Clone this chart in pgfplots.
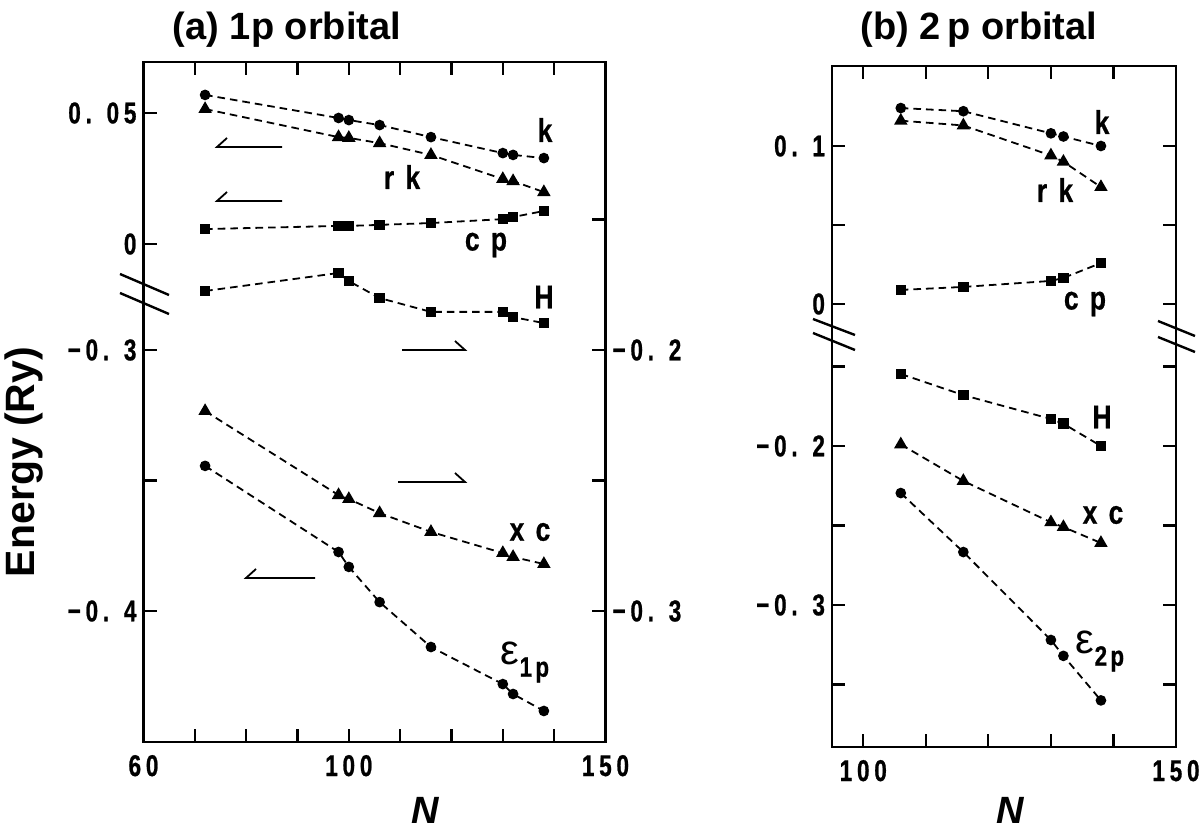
\documentclass[border=0pt]{standalone}
\usepackage{pgfplots}
\pgfplotsset{compat=1.18}
\usepackage{fontspec}
\setmainfont{Liberation Sans}
\newfontfamily\lsfont[LetterSpace=16,FakeStretch=0.75,FakeBold=0.8]{Liberation Sans}
\newfontfamily\lbfont[LetterSpace=12,FakeStretch=0.8,FakeBold=0.6]{Liberation Sans}
\newfontfamily\grfont{Liberation Sans}
\begin{document}
\begin{tikzpicture}
\pgfplotsset{
  panel/.style={scale only axis, anchor=south west, clip=false,
    tick align=inside, major tick length=6.5pt,
    axis line style={line width=1.2pt},
    every tick/.append style={line width=1.1pt, black},
    ticklabel style={font=\lsfont\bfseries\fontsize{15}{17}\selectfont},
    xticklabel style={yshift=-3pt},
  },
  ser/.style={black, line width=0.9pt, dash pattern=on 3.8pt off 2.5pt, mark options={solid}},
  sc/.style={ser, mark=*, mark size=2.2pt},
  ss/.style={ser, mark=square*, mark size=2.2pt},
  st/.style={ser, mark=triangle*, mark size=3pt},
}
\useasboundingbox (0,0) rectangle (602pt,415pt);

% ---------- panel (a) ----------
\begin{axis}[panel, at={(71.75pt,44pt)}, width=231pt, height=340pt,
  xmin=60, xmax=150, ymin=-0.19008, ymax=0.06947,
  xtick={60,70,...,150}, xticklabels={60,,,,100,,,,,150},
  xtick pos=both, xticklabel pos=left,
  ytick={0,0.05}, yticklabels={0,0. 05}, ytick pos=left]
\addplot[sc] coordinates {(72,0.0569) (98,0.0481) (100,0.0473) (106,0.0454) (116,0.0408) (130,0.0347) (132,0.0340) (138,0.0328)};
\addplot[st] coordinates {(72,0.0515) (98,0.0408) (100,0.0405) (106,0.0385) (116,0.0340) (130,0.0248) (132,0.0240) (138,0.0198)};
\addplot[ss] coordinates {(72,0.0057) (98,0.0069) (100,0.0069) (106,0.0073) (116,0.0080) (130,0.0095) (132,0.0103) (138,0.0126)};
\end{axis}
\begin{axis}[panel, at={(71.75pt,44pt)}, width=231pt, height=340pt,
  xmin=60, xmax=150, ymin=-0.45019, ymax=-0.18966, hide x axis,
  ytick={-0.4,-0.35,-0.3}, yticklabels={−0. 4,,−0. 3}, ytick pos=left]
\addplot[sc] coordinates {(72,-0.3444) (98,-0.3774) (100,-0.3831) (106,-0.3966) (116,-0.4138) (130,-0.4280) (132,-0.4318) (138,-0.4383)};
\end{axis}
\begin{axis}[panel, at={(71.75pt,44pt)}, width=231pt, height=340pt,
  xmin=60, xmax=150, ymin=-0.35019, ymax=-0.08966, hide x axis,
  ytick={-0.3,-0.25,-0.2,-0.15}, yticklabels={−0. 3,,−0. 2,},
  ytick pos=right, yticklabel pos=right]
\addplot[ss] coordinates {(72,-0.1774) (98,-0.1705) (100,-0.1736) (106,-0.1801) (116,-0.1854) (130,-0.1854) (132,-0.1874) (138,-0.1897)};
\addplot[st] coordinates {(72,-0.2234) (98,-0.2556) (100,-0.2571) (106,-0.2625) (116,-0.2697) (130,-0.2778) (132,-0.2793) (138,-0.2820)};
\end{axis}

% ---------- panel (b) ----------
\begin{axis}[panel, at={(416pt,41.5pt)}, width=172pt, height=340.5pt,
  xmin=95, xmax=150, ymin=-0.28038, ymax=0.15063,
  xtick={100,110,...,150}, xticklabels={100,,,,,150},
  xtick pos=both, xticklabel pos=left,
  ytick={0,0.05,0.1}, yticklabels={0,,0. 1}, ytick pos=both, yticklabel pos=left]
\addplot[sc] coordinates {(106,0.124) (116,0.122) (130,0.108) (132,0.106) (138,0.100)};
\addplot[st] coordinates {(106,0.116) (116,0.113) (130,0.094) (132,0.090) (138,0.074)};
\addplot[ss] coordinates {(106,0.0089) (116,0.0108) (130,0.0146) (132,0.0165) (138,0.0259)};
\end{axis}
\begin{axis}[panel, at={(416pt,41.5pt)}, width=172pt, height=340.5pt,
  xmin=95, xmax=150, ymin=-0.38931, ymax=0.03899, hide x axis,
  ytick={-0.35,-0.3,-0.25,-0.2,-0.15}, yticklabels={,−0. 3,,−0. 2,},
  ytick pos=both, yticklabel pos=left]
\addplot[ss] coordinates {(106,-0.1547) (116,-0.168) (130,-0.183) (132,-0.186) (138,-0.200)};
\addplot[st] coordinates {(106,-0.199) (116,-0.222) (130,-0.248) (132,-0.251) (138,-0.261)};
\addplot[sc] coordinates {(106,-0.2296) (116,-0.2667) (130,-0.322) (132,-0.332) (138,-0.360)};
\end{axis}

% ---------- annotations (pixel grid of the reference) ----------
\begin{scope}[x=0.5pt, y=-0.5pt, yshift=415pt]
  % axis breaks
  \draw[line width=1.2pt] (120,274)--(169,295) (120,293)--(169,314);
  \draw[line width=1.2pt] (813,319)--(855,335) (813,333)--(855,350);
  \draw[line width=1.2pt] (1158,321)--(1195,336) (1158,337)--(1195,352);
  % harpoon arrows
  \draw[line width=0.9pt] (227,138)--(217,147)--(282,147);
  \draw[line width=0.9pt] (227,192)--(217,201)--(282,201);
  \draw[line width=0.9pt] (402,350)--(465,350)--(455,341);
  \draw[line width=0.9pt] (398,482)--(465,482)--(455,473);
  \draw[line width=0.9pt] (256,569)--(246,578)--(315,578);
  % series labels
  \begin{scope}[every node/.style={font=\lbfont\bfseries\fontsize{16.5}{18}\selectfont, inner sep=0pt}]
    \node at (545,130) {k};
    \node at (402,177) {r k};
    \node at (486,245) {c p};
    \node at (544,297) {H};
    \node at (530,532) {x c};
    \node at (1102,122) {k};
    \node at (1055,190) {r k};
    \node at (1085,304) {c p};
    \node at (1102,417) {H};
    \node at (1103,515) {x c};
  \end{scope}
  \node[inner sep=0pt] at (525,662) {\grfont\fontsize{21}{23}\selectfont ε\raisebox{-0.3em}{\lbfont\bfseries\fontsize{14}{16}\selectfont 1p}};
  \node[inner sep=0pt] at (1100,651) {\grfont\fontsize{21}{23}\selectfont ε\raisebox{-0.3em}{\lbfont\bfseries\fontsize{14}{16}\selectfont 2p}};
  % titles and axis labels
  \node[font=\bfseries\fontsize{19}{21}\selectfont] at (287,30) {(a) 1p orbital};
  \node[font=\bfseries\fontsize{19}{21}\selectfont] at (979,30) {(b) 2\,p orbital};
  \node[font=\bfseries\fontsize{20.5}{22}\selectfont, rotate=90] at (24,462) {Energy (Ry)};
  \node[font=\bfseries\itshape\fontsize{19}{21}\selectfont] at (425,810) {N};
  \node[font=\bfseries\itshape\fontsize{19}{21}\selectfont] at (1010,810) {N};
\end{scope}
\end{tikzpicture}
\end{document}
